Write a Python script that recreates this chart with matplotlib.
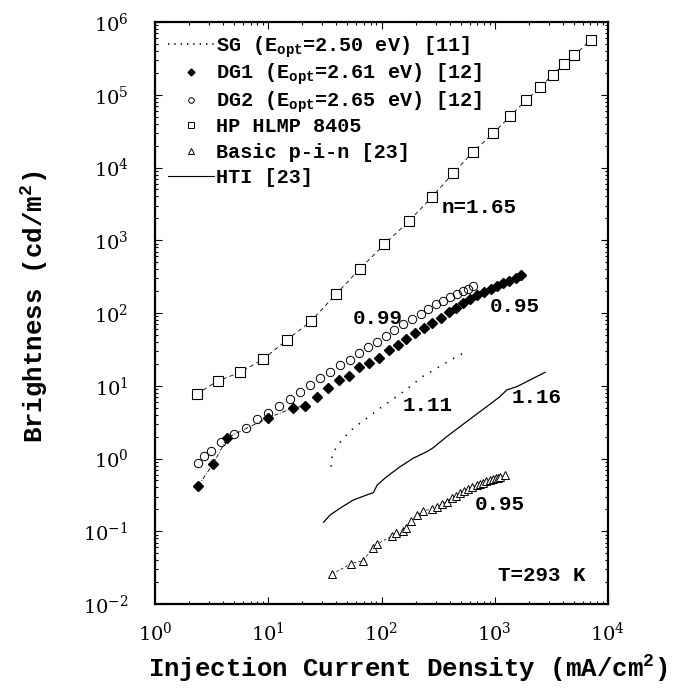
import numpy as np
import matplotlib
matplotlib.use('Agg')
import matplotlib.pyplot as plt
from matplotlib.lines import Line2D
from matplotlib.ticker import LogLocator, NullFormatter

plt.rcParams['font.family'] = 'Liberation Mono'
plt.rcParams['mathtext.fontset'] = 'custom'
plt.rcParams['mathtext.rm'] = 'Liberation Mono'
plt.rcParams['mathtext.it'] = 'Liberation Mono'
plt.rcParams['mathtext.bf'] = 'Liberation Mono:bold'

# HP HLMP 8405 (open squares)
hp_j = [2.33, 3.57, 5.66, 9.06, 14.6, 23.9, 39.6, 64.6, 106, 175, 279, 431,
        646, 971, 1365, 1888, 2512, 3243, 4111, 5035, 7079]
hp_b = [7.7, 11.6, 15.3, 23.3, 42.6, 77.6, 181, 406, 879, 1840, 3930, 8390,
        16500, 29500, 50600, 84000, 126000, 189000, 265000, 347000, 571000]

# DG1 (filled diamonds)
dg1_j = [2.41, 3.27, 4.35, 10.0, 16.4, 21.0, 26.8, 33.5, 41.9, 51.6, 63.7, 78.0,
         94.8, 116, 140, 165, 198, 236, 281, 335, 392, 455, 520, 604, 693, 804,
         920, 1052, 1189, 1346, 1531, 1694]
dg1_b = [0.423, 0.849, 1.93, 3.64, 4.90, 5.33, 7.0, 9.4, 11.9, 13.7, 17.9, 20.8,
         24.0, 31.0, 36.0, 44.0, 53.6, 62.2, 74.0, 85.3, 102, 118, 136, 157, 178,
         195, 214, 235, 256, 278, 300, 330]

# DG2 (open circles)
dg2_j = [2.38, 2.73, 3.10, 3.83, 5.02, 6.35, 7.91, 9.89, 12.4, 15.5, 19.1, 23.5,
         28.8, 35.1, 43.0, 52.5, 63.7, 76.0, 91.4, 109, 130, 156, 186, 222, 259,
         303, 351, 403, 461, 521, 583, 647]
dg2_b = [0.861, 1.08, 1.27, 1.70, 2.15, 2.61, 3.46, 4.27, 5.33, 6.58, 8.30, 10.2,
         12.8, 15.6, 19.1, 22.6, 27.9, 33.8, 40.4, 48.3, 58.3, 70.0, 81.8, 97.7,
         114, 132, 148, 164, 182, 200, 216, 235]

# SG (dotted)
sg_j = [35.8, 36.7, 40.2, 46.0, 56.4, 74.0, 96.8, 136, 178, 234, 307, 417, 546]
sg_b = [0.771, 1.12, 1.45, 1.90, 2.61, 3.57, 4.90, 7.08, 9.70, 13.6, 17.4, 23.1, 28.8]

# HTI (solid)
hti_j = [30.8, 35.1, 43.0, 56.4, 74.0, 84.7, 91.8, 111, 146, 191, 251, 287, 377,
         493, 646, 849, 1112, 1276, 1563, 2780]
hti_b = [0.133, 0.167, 0.207, 0.269, 0.315, 0.339, 0.433, 0.562, 0.771, 1.01,
         1.24, 1.41, 2.0, 2.74, 3.76, 5.16, 7.08, 8.75, 9.70, 15.3]

# Basic p-i-n (open triangles)
pin_j = [36.7, 53.5, 68.2, 84.7, 91.8, 124, 133, 156, 164, 181, 207, 234, 278,
         307, 340, 377, 417, 455, 493, 536, 583, 634, 693, 741, 793, 838, 908,
         971, 1020, 1070, 1120, 1230]
pin_b = [0.0258, 0.0358, 0.0394, 0.0594, 0.0668, 0.0861, 0.0938, 0.101, 0.110,
         0.138, 0.167, 0.192, 0.200, 0.213, 0.237, 0.255, 0.289, 0.308, 0.333,
         0.354, 0.378, 0.406, 0.433, 0.446, 0.465, 0.484, 0.506, 0.520, 0.535,
         0.548, 0.560, 0.587]

fig = plt.figure(figsize=(6.91, 6.90), dpi=100)
ax = fig.add_axes([155/691, 1-604/690, 453/691, 582/690])
ax.set_xscale('log')
ax.set_yscale('log')

ax.plot(hp_j, hp_b, color='black', lw=0.6, dashes=(5, 4), marker='s', ms=6.5,
        mfc='white', mec='black', mew=0.8)
ax.plot(dg1_j[:6], dg1_b[:6], color='black', lw=0.6, dashes=(5, 2, 1, 2))
ax.plot(dg1_j, dg1_b, ls='none', marker='D', ms=5, mfc='black', mec='black')
ax.plot(dg2_j, dg2_b, ls='none', marker='o', ms=6, mfc='none', mec='black', mew=0.7)
ax.plot(sg_j, sg_b, color='black', lw=1.2, dashes=(0.8, 4.5))
ax.plot(hti_j, hti_b, color='black', lw=0.9)
ax.plot(pin_j, pin_b, color='black', lw=0.5, dashes=(4, 3), marker='^', ms=5.5,
        mfc='white', mec='black', mew=0.7)

ax.set_xlim(1, 1e4)
ax.set_ylim(1e-2, 1e6)
ax.xaxis.set_major_locator(LogLocator(base=10, numticks=20))
ax.yaxis.set_major_locator(LogLocator(base=10, numticks=20))
ax.xaxis.set_minor_locator(LogLocator(base=10, subs=np.arange(2, 10), numticks=100))
ax.yaxis.set_minor_locator(LogLocator(base=10, subs=np.arange(2, 10), numticks=100))
ax.xaxis.set_minor_formatter(NullFormatter())
ax.yaxis.set_minor_formatter(NullFormatter())
ax.tick_params(which='both', direction='in', top=True, right=True, width=0.8,
               labelfontfamily='DejaVu Serif', labelsize=14)
ax.tick_params(which='major', length=5)
ax.tick_params(axis='x', which='major', pad=13)
ax.tick_params(axis='y', which='major', pad=19)
ax.tick_params(which='minor', length=2.5)
for s in ax.spines.values():
    s.set_linewidth(1.6)

ax.set_xlabel('Injection Current Density (mA/cm$^{\\mathbf{2}}$)', fontsize=18.5,
              fontweight='bold')
ax.xaxis.set_label_coords(0.558, -0.085)
ax.set_ylabel('Brightness (cd/m$^{\\mathbf{2}}$)', fontsize=18.5, fontweight='bold')
ax.yaxis.set_label_coords(-0.232, 0.51)

# legend in two blocks so the rows with subscripts keep the same spacing
leg_prop = {'family': 'Liberation Mono', 'weight': 'bold', 'size': 14.5}
handles1 = [
    Line2D([], [], color='black', lw=1.2, dashes=(0.8, 3)),
    Line2D([], [], ls='none', marker='D', ms=3.5, mfc='black', mec='black'),
    Line2D([], [], ls='none', marker='o', ms=4, mfc='none', mec='black', mew=0.7),
]
labels1 = [
    'SG (E$_{\\mathbf{opt}}$=2.50 eV) [11]',
    'DG1 (E$_{\\mathbf{opt}}$=2.61 eV) [12]',
    'DG2 (E$_{\\mathbf{opt}}$=2.65 eV) [12]',
]
handles2 = [
    Line2D([], [], ls='none', marker='s', ms=4, mfc='none', mec='black', mew=0.7),
    Line2D([], [], ls='none', marker='^', ms=4, mfc='none', mec='black', mew=0.7),
    Line2D([], [], color='black', lw=0.8),
]
labels2 = ['HP HLMP 8405', 'Basic p-i-n [23]', 'HTI [23]']

leg1 = ax.legend(handles1, labels1, loc='upper left', bbox_to_anchor=(13/453, 1-12/582),
                 frameon=False, borderaxespad=0, borderpad=0, handlelength=2.3,
                 handletextpad=0.1, labelspacing=0.12, prop=leg_prop)
ax.add_artist(leg1)
ax.legend(handles2, labels2, loc='upper left', bbox_to_anchor=(13/453, 1-95/582),
          frameon=False, borderaxespad=0, borderpad=0, handlelength=2.3,
          handletextpad=0.1, labelspacing=0.33, prop=leg_prop)

notes = [('n=1.65', 342, 2860), ('0.99', 56, 85), ('0.95', 908, 121),
         ('1.11', 155, 5.4), ('1.16', 1420, 6.8), ('0.95', 670, 0.23),
         ('T=293 K', 1069, 0.025)]
for txt, x, y in notes:
    ax.text(x, y, txt, fontsize=15, fontweight='bold', ha='left', va='center')

fig.savefig('out.png', dpi=100)
